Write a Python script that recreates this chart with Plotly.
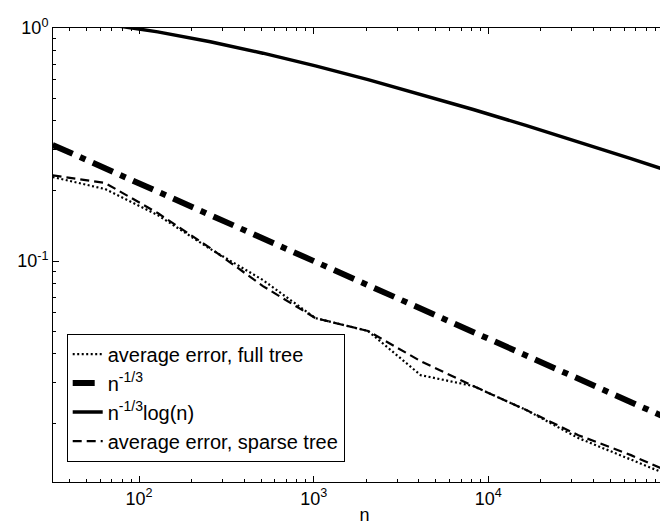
import plotly.graph_objects as go

# sample sizes n (powers of two)
n_values = [32, 64, 128, 256, 512, 1024, 2048, 4096, 8192, 16384, 32768, 65536, 131072]

# average error, full tree (dotted)
err_full = [0.2294, 0.2037, 0.1575, 0.1127, 0.0829, 0.0569, 0.0501, 0.0324,
            0.0291, 0.0230, 0.0174, 0.0141, 0.01137]
# n^{-1/3} reference line (dash-dot)
ref_rate = [0.315, 0.250, 0.1984, 0.1575, 0.1250, 0.0992, 0.0787, 0.0625,
            0.0496, 0.0394, 0.03125, 0.0248, 0.0197]
# n^{-1/3} log(n) reference line (solid)
ref_rate_log = [1.092, 1.040, 0.9625, 0.8733, 0.7798, 0.6877, 0.6003, 0.5199,
                0.4470, 0.3823, 0.3249, 0.2751, 0.2321]
# average error, sparse tree (dashed)
err_sparse = [0.2333, 0.2162, 0.1607, 0.1137, 0.0781, 0.0569, 0.0501, 0.0372,
              0.0291, 0.0230, 0.0179, 0.0147, 0.01172]

series_names = ["average error, full tree", "n<sup>-1/3</sup>",
                "n<sup>-1/3</sup>log(n)", "average error, sparse tree"]

x_tickvals = [100, 1000, 10000, 100000]
x_ticktext = ["10<sup>2</sup>", "10<sup>3</sup>", "10<sup>4</sup>", "10<sup>5</sup>"]
y_tickvals = [0.1, 1]
y_ticktext = ["10<sup>-1</sup>", "10<sup>0</sup>"]

x_minor = [m * 10 ** e for e in range(1, 6) for m in range(2, 10)]
y_minor = [m * 10 ** e for e in (-2, -1) for m in range(2, 10)]

FONT = "Liberation Sans, Arial, Helvetica, sans-serif"

fig = go.Figure()
fig.add_trace(go.Scatter(x=n_values, y=err_full, mode="lines", name=series_names[0],
                         line=dict(color="black", width=2.2, dash="2px,2.5px")))
fig.add_trace(go.Scatter(x=n_values, y=ref_rate, mode="lines", name=series_names[1],
                         line=dict(color="black", width=6, dash="22px,8px,6px,8px")))
fig.add_trace(go.Scatter(x=n_values, y=ref_rate_log, mode="lines", name=series_names[2],
                         line=dict(color="black", width=3.5)))
fig.add_trace(go.Scatter(x=n_values, y=err_sparse, mode="lines", name=series_names[3],
                         line=dict(color="black", width=2.2, dash="9px,5px")))

fig.update_layout(
    width=668, height=524,
    margin=dict(l=45, r=0, t=20, b=50, autoexpand=False),
    paper_bgcolor="white", plot_bgcolor="white",
    font=dict(family=FONT, color="black", size=18),
    showlegend=True,
    legend=dict(x=0.022, y=0.045, xanchor="left", yanchor="bottom",
                bgcolor="white", bordercolor="black", borderwidth=1,
                font=dict(family=FONT, size=20, color="black"),
                itemwidth=30, tracegroupgap=0),
    xaxis=dict(type="log", range=[1.5076, 5.0744], automargin=False,
               showgrid=False, zeroline=False,
               showline=True, linecolor="black", linewidth=1, mirror="ticks",
               ticks="inside", ticklen=6, tickcolor="black", tickwidth=1,
               tickvals=x_tickvals, ticktext=x_ticktext,
               tickfont=dict(family=FONT, size=18, color="black"),
               minor=dict(tickvals=x_minor, ticks="inside", ticklen=3,
                          tickcolor="black", tickwidth=1, showgrid=False),
               title=dict(text="n", font=dict(family=FONT, size=18, color="black"),
                          standoff=0)),
    yaxis=dict(type="log", range=[-1.948, 0], automargin=False,
               showgrid=False, zeroline=False,
               showline=True, linecolor="black", linewidth=1, mirror=False,
               ticks="inside", ticklen=6, tickcolor="black", tickwidth=1,
               tickvals=y_tickvals, ticktext=y_ticktext,
               tickfont=dict(family=FONT, size=18, color="black"),
               minor=dict(tickvals=y_minor, ticks="inside", ticklen=3,
                          tickcolor="black", tickwidth=1, showgrid=False)),
)

fig.write_html("out.html")
